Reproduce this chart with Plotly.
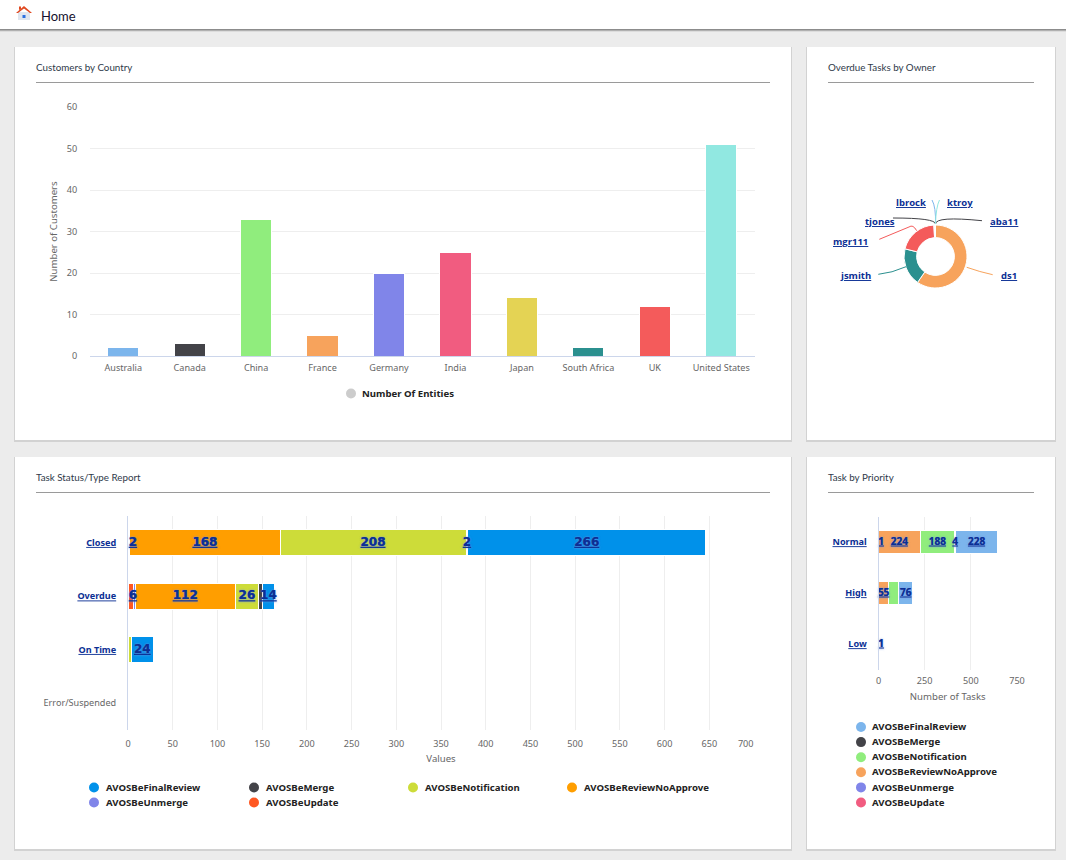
import plotly.graph_objects as go

W, H = 1066, 860
# ---------- data ----------
countries = ["Australia", "Canada", "China", "France", "Germany", "India", "Japan", "South Africa", "UK", "United States"]
customers = [2, 3, 33, 5, 20, 25, 14, 2, 12, 51]
country_colors = ["#7cb5ec", "#434348", "#90ed7d", "#f7a35c", "#8085e9", "#f15c80", "#e4d354", "#2b908f", "#f45b5b", "#91e8e1"]

owners = ["ds1", "jsmith", "mgr111", "tjones", "lbrock", "ktroy", "aba11"]
overdue = [300, 97, 102, 1, 1, 1, 1]
owner_colors = ["#f7a35c", "#2b908f", "#f45b5b", "#434348", "#7cb5ec", "#91e8e1", "#434348"]

statuses = ["Closed", "Overdue", "On Time", "Error/Suspended"]
s_update = [2, 6, None, None]
s_unmerge = [None, 2, None, None]
s_review = [168, 112, None, None]
s_notify = [208, 26, 4, None]
s_merge = [2, 4, None, None]
s_final = [266, 14, 24, None]
s_update_lbl = ["2", "6", "", ""]
s_unmerge_lbl = ["", "", "", ""]
s_review_lbl = ["168", "112", "", ""]
s_notify_lbl = ["208", "26", "", ""]
s_merge_lbl = ["2", "", "", ""]
s_final_lbl = ["266", "14", "24", ""]
value_ticks = [0, 50, 100, 150, 200, 250, 300, 350, 400, 450, 500, 550, 600, 650, 700]

priorities = ["Normal", "High", "Low"]
p_update = [1, None, 1]
p_unmerge = [None, None, None]
p_review = [224, 55, None]
p_notify = [188, 54, None]
p_merge = [4, None, None]
p_final = [228, 76, None]
p_update_lbl = ["1", "", "1"]
p_unmerge_lbl = ["", "", ""]
p_review_lbl = ["224", "55", ""]
p_notify_lbl = ["188", "", ""]
p_merge_lbl = ["4", "", ""]
p_final_lbl = ["228", "76", ""]

series_names = ["AVOSBeFinalReview", "AVOSBeMerge", "AVOSBeNotification", "AVOSBeReviewNoApprove", "AVOSBeUnmerge", "AVOSBeUpdate"]
status_colors = ["#0091ea", "#434348", "#cddc39", "#ff9e00", "#8085e9", "#ff5722"]
priority_colors = ["#7cb5ec", "#434348", "#90ed7d", "#f7a35c", "#8085e9", "#f15c80"]

# ---------- style ----------
LINK = "#0b2f94"
GRAY = "#666666"
AXIS = "#ccd6eb"
GRID = "#eeeeee"
TICK = "Noto Sans"
TITLE = "Lato"

def fx(x): return x / W
def fy(y): return 1 - y / H

shapes, annots = [], []

def rect(x0, y0, x1, y1, color, layer="below"):
    shapes.append(dict(type="rect", xref="paper", yref="paper", x0=fx(x0), x1=fx(x1), y0=fy(y0), y1=fy(y1),
                       fillcolor=color, line_width=0, layer=layer))

def text(x, y, s, size=10, color=GRAY, family=TICK, anchor="left"):
    annots.append(dict(xref="paper", yref="paper", x=fx(x), y=fy(y), text=s, showarrow=False, xanchor=anchor,
                       yanchor="middle", font=dict(size=size, color=color, family=family),
                       borderpad=0, borderwidth=0))

def path(d, color=None, line=None, lw=1):
    out = []
    for tok in d.split():
        if tok[0].isalpha():
            out.append(tok)
        else:
            a, b = tok.split(",")
            out.append(f"{fx(float(a)):.5f},{fy(float(b)):.5f}")
    shapes.append(dict(type="path", xref="paper", yref="paper", path=" ".join(out),
                       fillcolor=color or "rgba(0,0,0,0)", line=dict(color=line or "rgba(0,0,0,0)", width=lw if line else 0),
                       layer="above"))

def dot(cx, cy, color, r=5):
    shapes.append(dict(type="circle", xref="paper", yref="paper", x0=fx(cx - r), x1=fx(cx + r), y0=fy(cy - r), y1=fy(cy + r),
                       fillcolor=color, line_width=0, layer="above"))

# page chrome
rect(0, 29, W, 30, "#8c8c8c")
rect(0, 30, W, 31, "#b0b0b0")
rect(0, 31, W, 32, "#dcdcdc")
rect(0, 0, W, 29, "#ffffff")
for x0, y0, x1, y1, title in [(15, 47, 791, 440, "Customers by Country"), (807, 47, 1055, 440, "Overdue Tasks by Owner"),
                              (15, 457, 791, 849, "Task Status/Type Report"), (807, 457, 1055, 849, "Task by Priority")]:
    rect(x0 - 1, y0, x1 + 1, y1 + 2, "#d2d2d2")
    rect(x0, y0, x1, y1, "#ffffff")
    rect(x0 + 21, y0 + 35, x1 - 21, y0 + 36, "#9a9a9a")
    text(x0 + 21, y0 + 19.8, title, size=9.8, color="#2f3a4a", family=TITLE)

# home icon
path("M 18,12 L 30,12 L 30,20 L 18,20 Z", color="#dfe5ee")
path("M 22.5,15 L 25.5,15 L 25.5,18 L 22.5,18 Z", color="#2a6fe0")
path("M 16,13 L 24,6 L 32,13 L 30,13 L 24,8.5 L 18,13 Z", color="#e0481f")
path("M 19,6.5 L 21,6.5 L 21,9 L 19,10 Z", color="#e0481f")
text(41, 16, "Home", size=13, color="#15102e", family=TITLE)

fig = go.Figure()

# customers by country
fig.add_trace(go.Bar(x=countries, y=customers, marker=dict(color=country_colors, line=dict(color="#ffffff", width=1)),
                     width=0.47, xaxis="x", yaxis="y", showlegend=False, name="Number Of Entities"))

# overdue donut
fig.add_trace(go.Pie(labels=owners, values=overdue, hole=0.6, sort=False, direction="clockwise", rotation=0,
                     marker=dict(colors=owner_colors, line=dict(color="#ffffff", width=1)), textinfo="none",
                     showlegend=False, domain=dict(x=[fx(904), fx(967)], y=[fy(288), fy(225)])))

def stack(cats, columns, xa, ya, width, size, family, min_x):
    base = [0] * len(cats)
    lx, ly, lt = [], [], []
    for vals, lbls, color, name in columns:
        fig.add_trace(go.Bar(
            y=cats, x=vals, orientation="h", name=name, width=width, xaxis=xa, yaxis=ya, showlegend=False,
            marker=dict(color=color, line=dict(color="#ffffff", width=1))))
        for i, (v, t) in enumerate(zip(vals, lbls)):
            if v is None:
                continue
            if t:
                lx.append(max(base[i] + v / 2, min_x))
                ly.append(cats[i])
                lt.append(f"<u>{t}</u>")
            base[i] += v
    # data labels are overlaid so that thin segments do not hide them
    fig.add_trace(go.Scatter(x=lx, y=ly, text=lt, mode="text", textposition="middle center", xaxis=xa, yaxis=ya,
                             showlegend=False, cliponaxis=False,
                             textfont=dict(color=LINK, size=size, family=family, weight="bold",
                                           shadow="0 0 2px rgba(120,150,225,0.55)")))

stack(statuses, [(s_update, s_update_lbl, status_colors[5], series_names[5]),
                 (s_unmerge, s_unmerge_lbl, status_colors[4], series_names[4]),
                 (s_review, s_review_lbl, status_colors[3], series_names[3]),
                 (s_notify, s_notify_lbl, status_colors[2], series_names[2]),
                 (s_merge, s_merge_lbl, status_colors[1], series_names[1]),
                 (s_final, s_final_lbl, status_colors[0], series_names[0])],
      "x2", "y2", 0.486, 12, "DejaVu Sans", 5.5)
stack(priorities, [(p_update, p_update_lbl, priority_colors[5], series_names[5]),
                   (p_unmerge, p_unmerge_lbl, priority_colors[4], series_names[4]),
                   (p_review, p_review_lbl, priority_colors[3], series_names[3]),
                   (p_notify, p_notify_lbl, priority_colors[2], series_names[2]),
                   (p_merge, p_merge_lbl, priority_colors[1], series_names[1]),
                   (p_final, p_final_lbl, priority_colors[0], series_names[0])],
      "x3", "y3", 0.47, 10, "Open Sans", 14)

# donut labels & connectors
for name, x, y in zip(owners, [1009, 855, 850, 880, 911, 960, 1004], [275.5, 275.5, 241.5, 221.5, 202.5, 202.5, 221.5]):
    text(x, y, f"<b><u>{name}</u></b>", size=9.5, color=LINK, family="Open Sans", anchor="center")
path("M 966.7,267.3 Q 980,272 992.7,274.7", line="#f7a35c")
path("M 906,266.7 Q 892,273 878.3,274.3", line="#2b908f")
path("M 916.7,230.7 Q 913,224 909,227 L 879.3,239.3", line="#f45b5b")
path("M 935.5,224 Q 935.5,218 893,218", line="#434348")
path("M 935.5,224 Q 935.5,216 982,220.7", line="#434348")
path("M 935.5,224 Q 936,207 932,200", line="#7cb5ec")
path("M 935.5,224 Q 936,207 939.5,200", line="#91e8e1")

# legends
dot(351, 393.5, "#cccccc")
text(362, 393.2, "<b>Number Of Entities</b>", size=9.6, color="#222222")
for i, (name, col) in enumerate(zip(series_names, status_colors)):
    cx = [94, 254, 413, 572][i % 4]
    cy = 787.5 + 15 * (i // 4)
    dot(cx, cy, col)
    text(cx + 11.5, cy - 0.4, f"<b>{name}</b>", size=9.6, color="#222222")
for i, (name, col) in enumerate(zip(series_names, priority_colors)):
    cy = 727 + 15.1 * i
    dot(861, cy, col)
    text(872, cy - 0.4, f"<b>{name}</b>", size=9.6, color="#222222")

tick = dict(size=9.1, color=GRAY, family=TICK)
def link(c):
    if c == "Error/Suspended":
        return c
    return f'<span style="color:{LINK}"><b><u>{c}</u></b></span>'

# the last label is kept inside the plot area, as in the reference
value_ticktext = [str(v) if v != 700 else "700" + "\u00a0" * 7 for v in value_ticks]

fig.update_layout(
    width=W, height=H, margin=dict(l=0, r=0, t=0, b=0, pad=0, autoexpand=False), paper_bgcolor="#ececec", plot_bgcolor="rgba(0,0,0,0)",
    barmode="stack", shapes=shapes, annotations=annots, autosize=False, hovermode=False,
    xaxis=dict(domain=[fx(90), fx(754.5)], anchor="y", showgrid=False, showline=True, linecolor=AXIS, tickfont=tick,
               ticks="outside", ticklen=3, tickcolor="rgba(0,0,0,0)", fixedrange=True),
    yaxis=dict(domain=[fy(356), fy(107)], anchor="x", range=[0, 60], dtick=10, gridcolor=GRID, zeroline=False, tickfont=tick,
               ticks="outside", ticklen=10, tickcolor="rgba(0,0,0,0)",
               title=dict(text="Number of Customers", font=dict(size=9.6, color=GRAY, family=TICK), standoff=7), fixedrange=True),
    xaxis2=dict(domain=[fx(128), fx(754)], anchor="y2", range=[0, 700], tickmode="array", tickvals=value_ticks, ticktext=value_ticktext,
                gridcolor=GRID, zeroline=False, tickfont=tick, ticks="outside", ticklen=5, tickcolor="rgba(0,0,0,0)",
                title=dict(text="Values", font=dict(size=9.6, color=GRAY, family=TICK), standoff=6), fixedrange=True),
    yaxis2=dict(domain=[fy(730), fy(516)], anchor="x2", type="category", categoryorder="array", categoryarray=statuses,
                range=[3.5, -0.5], showgrid=False, showline=True, linecolor=AXIS, tickfont=tick, ticks="outside", ticklen=9,
                tickcolor="rgba(0,0,0,0)", tickmode="array", tickvals=statuses, ticktext=[link(c) for c in statuses], fixedrange=True),
    xaxis3=dict(domain=[fx(878.5), fx(1017)], anchor="y3", range=[0, 750], dtick=250, gridcolor=GRID, zeroline=False, tickfont=tick,
                ticks="outside", ticklen=3, tickcolor="rgba(0,0,0,0)",
                title=dict(text="Number of Tasks", font=dict(size=9.6, color=GRAY, family=TICK), standoff=6), fixedrange=True),
    yaxis3=dict(domain=[fy(669.5), fy(516.5)], anchor="x3", type="category", categoryorder="array", categoryarray=priorities,
                range=[2.5, -0.5], showgrid=False, showline=True, linecolor=AXIS, tickfont=tick, ticks="outside", ticklen=9,
                tickcolor="rgba(0,0,0,0)", tickmode="array", tickvals=priorities, ticktext=[link(c) for c in priorities], fixedrange=True),
)

fig.write_html("out.html", config=dict(displayModeBar=False),
               post_script="document.body.style.margin='0';document.body.style.overflow='hidden';")
